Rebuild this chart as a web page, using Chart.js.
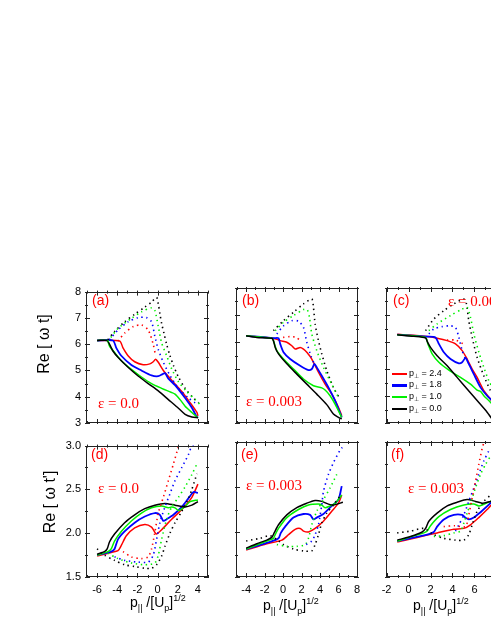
<!DOCTYPE html>
<html>
<head>
<meta charset="utf-8">
<script src="https://cdn.jsdelivr.net/npm/chart.js@4.4.0/dist/chart.umd.min.js"></script>
<style>
  html, body { margin: 0; padding: 0; background: #fff; overflow: hidden; }
  #wrap { position: relative; width: 491px; height: 635px; overflow: hidden; }
  canvas { position: absolute; }
  .t { position: absolute; white-space: nowrap; font-family: 'Liberation Sans', Arial, sans-serif; color: #000; line-height: 1; }
  .lbl { color: #ff0000; font-size: 14px; }
  .eps { color: #ff0000; font-family: 'Liberation Serif', 'Times New Roman', serif; font-size: 15px; }
  .ytl { font-size: 16px; transform: translate(-50%, -50%) rotate(-90deg); }
  .xtl { font-size: 14px; }
  .xtl sub { font-size: 9px; vertical-align: -4px; }
  .xtl sup { font-size: 9px; vertical-align: 6px; }
  .leg { font-size: 9px; }
  .leg sub { font-size: 6px; vertical-align: -2px; }
  .ln { position: absolute; width: 15px; }
</style>
</head>
<body>
<div id="wrap">
  <canvas id="pa" width="172" height="165" style="left:46px;top:280px"></canvas>
  <canvas id="pb" width="172" height="165" style="left:196px;top:280px"></canvas>
  <canvas id="pc" width="172" height="165" style="left:346px;top:280px"></canvas>
  <canvas id="pd" width="172" height="165" style="left:46px;top:434px"></canvas>
  <canvas id="pe" width="172" height="165" style="left:196px;top:434px"></canvas>
  <canvas id="pf" width="172" height="165" style="left:346px;top:434px"></canvas>

  <div class="t lbl" style="left:92px;top:293px">(a)</div>
  <div class="t lbl" style="left:242px;top:293px">(b)</div>
  <div class="t lbl" style="left:393px;top:293px">(c)</div>
  <div class="t lbl" style="left:91px;top:447px">(d)</div>
  <div class="t lbl" style="left:241px;top:447px">(e)</div>
  <div class="t lbl" style="left:391px;top:447px">(f)</div>

  <div class="t eps" style="left:98px;top:396px">&epsilon; = 0.0</div>
  <div class="t eps" style="left:246px;top:394px">&epsilon; = 0.003</div>
  <div class="t eps" style="left:448px;top:294px">&epsilon; = 0.003</div>
  <div class="t eps" style="left:98px;top:481px">&epsilon; = 0.0</div>
  <div class="t eps" style="left:246px;top:478px">&epsilon; = 0.003</div>
  <div class="t eps" style="left:408px;top:481px">&epsilon; = 0.003</div>

  <div class="t ytl" style="left:44px;top:344px">Re [ &omega; t]</div>
  <div class="t ytl" style="left:50px;top:502px">Re [ &omega; t']</div>

  <div class="t xtl" style="left:130px;top:594px">p<sub>||</sub> /[U<sub>p</sub>]<sup>1/2</sup></div>
  <div class="t xtl" style="left:263px;top:597px">p<sub>||</sub> /[U<sub>p</sub>]<sup>1/2</sup></div>
  <div class="t xtl" style="left:413px;top:597px">p<sub>||</sub> /[U<sub>p</sub>]<sup>1/2</sup></div>

  <div class="ln" style="left:392px;top:373px;height:1.5px;background:#ff0000"></div>
  <div class="t leg" style="left:409px;top:369px">p<sub>&perp;</sub> = 2.4</div>
  <div class="ln" style="left:392px;top:384px;height:2.5px;background:#0000ff"></div>
  <div class="t leg" style="left:409px;top:380px">p<sub>&perp;</sub> = 1.8</div>
  <div class="ln" style="left:392px;top:396px;height:1.5px;background:#00f000"></div>
  <div class="t leg" style="left:409px;top:392px">p<sub>&perp;</sub> = 1.0</div>
  <div class="ln" style="left:392px;top:408px;height:1.5px;background:#000"></div>
  <div class="t leg" style="left:409px;top:404px">p<sub>&perp;</sub> = 0.0</div>
</div>
<script>
// tick values
var xTicksA = [-6, -4, -2, 0, 2, 4];
var xTicksB = [-4, -2, 0, 2, 4, 6, 8];
var xTicksC = [-2, 0, 2, 4, 6, 8];
var yTicksTop = [3, 4, 5, 6, 7, 8];
var yTicksBot = [1.5, 2.0, 2.5, 3.0];

// (a) eps = 0.0, Re[wt]
var aRed = [[-6,6.14],[-3.77,6.12],[-3.43,5.86],[-2.93,5.56],[-2.27,5.33],[-1.43,5.22],[-0.77,5.25],[-0.43,5.33],[-0.2,5.43],[0.07,5.31],[0.57,5.0],[1.4,4.63],[2.4,4.2],[3.23,3.77],[3.9,3.4],[4,3.27]];
var aBlue = [[-6,6.14],[-4.43,6.14],[-4.1,5.86],[-3.6,5.56],[-2.6,5.21],[-1.6,5.0],[-0.6,4.81],[0.07,4.78],[0.5,4.86],[0.73,4.9],[1.07,4.69],[1.73,4.44],[2.73,3.95],[3.4,3.58],[3.83,3.27],[4,3.2]];
var aGreen = [[-6,6.14],[-5,6.14],[-4.77,5.93],[-4.27,5.68],[-3.6,5.37],[-2.6,5.04],[-1.6,4.75],[-0.6,4.5],[0.4,4.32],[1.33,4.17],[1.73,4.1],[2.23,3.89],[2.73,3.64],[3.4,3.4],[4,3.2]];
var aBlack = [[-6,6.14],[-5,6.14],[-4.77,6.0],[-4.43,5.74],[-3.93,5.5],[-2.93,5.12],[-1.93,4.79],[-0.93,4.5],[0.07,4.22],[1.07,3.89],[2.07,3.56],[2.73,3.33],[3.4,3.23],[4,3.2]];
var aRedDot = [[-3.93,6.12],[-3.27,6.42],[-2.4,6.67],[-1.6,6.73],[-0.93,6.54],[-0.43,5.99],[-0.2,5.56]];
var aBlueDot = [[-4.77,6.17],[-3.93,6.54],[-2.93,6.85],[-1.93,7.01],[-1.1,7.01],[-0.6,6.85],[-0.27,6.3],[0.07,5.8],[0.57,5.31],[1.23,4.81],[2.07,4.32],[3.07,3.95],[3.73,3.77]];
var aGreenDot = [[-4.93,6.1],[-3.93,6.6],[-2.6,6.98],[-1.6,7.23],[-0.6,7.38],[-0.27,7.28],[0.07,6.67],[0.4,6.05],[0.9,5.56],[1.4,5.06],[2.07,4.57],[2.9,4.2],[3.73,3.89],[4.23,3.7]];
var aBlackDot = [[-4.93,6.17],[-4.27,6.48],[-3.27,6.85],[-2.27,7.14],[-1.27,7.41],[-0.6,7.6],[-0.1,7.78],[0.07,7.53],[0.23,7.16],[0.4,6.79],[0.63,6.42],[0.9,5.99],[1.23,5.56],[1.57,5.19],[2.07,4.75],[2.73,4.32],[3.4,4.01],[4.07,3.77]];

// (b) eps = 0.003, Re[wt]
var bRed = [[-4,6.23],[-1.05,6.14],[-0.32,6.05],[0.4,5.99],[0.94,5.86],[1.3,5.74],[1.84,5.8],[2.2,5.74],[2.56,5.62],[3.1,5.37],[3.82,4.88],[4.54,4.44],[5.26,4.07],[5.98,3.58],[6.34,3.27]];
var bBlue = [[-4,6.23],[-1.05,6.14],[-0.5,6.14],[-0.32,5.93],[0.04,5.62],[0.76,5.37],[1.84,5.12],[2.74,4.96],[3.1,5.0],[3.39,5.19],[3.64,5.06],[4.18,4.75],[4.9,4.32],[5.62,3.83],[6.34,3.21]];
var bGreen = [[-4,6.23],[-1.23,6.14],[-1.05,6.05],[-0.68,5.68],[0.04,5.37],[1.12,5.0],[2.2,4.63],[3.28,4.38],[4.18,4.3],[4.54,4.22],[5.08,4.01],[5.62,3.7],[6.34,3.21]];
var bBlack = [[-4,6.23],[-2.85,6.17],[-1.23,6.14],[-1.05,6.05],[-0.86,5.8],[-0.5,5.56],[0.4,5.19],[1.48,4.81],[2.56,4.44],[3.64,4.07],[4.72,3.68],[5.44,3.33],[5.98,3.21],[6.34,3.15]];
var bRedDot = [[0.0,6.17],[0.7,6.2],[1.4,6.17],[1.9,6.05]];
var bBlueDot = [[-0.68,6.3],[0.04,6.6],[0.94,6.79],[1.66,6.77],[2.2,6.54],[2.56,5.99],[3.0,5.49],[3.46,5.12]];
var bGreenDot = [[-0.86,6.42],[0.04,6.73],[1.12,6.98],[2.2,7.2],[2.6,7.2],[2.85,6.91],[3.1,6.3],[3.64,5.68],[4.36,5.06],[5.26,4.44],[5.98,3.95]];
var bBlackDot = [[-1.05,6.42],[0.04,6.79],[1.12,7.1],[2.2,7.41],[3.1,7.59],[3.28,7.28],[3.46,6.67],[3.82,6.05],[4.18,5.56],[4.72,4.94],[5.44,4.32],[6.16,3.89]];

// (c) eps = 0.003, Re[wt]
var cRed = [[-1.03,6.29],[1.7,6.2],[2.6,6.14],[3.52,6.05],[4.27,5.93],[4.88,5.68],[5.33,5.37],[5.79,5.0],[6.24,4.69],[6.85,4.2],[7.45,3.89],[8.0,3.55]];
var cBlue = [[-1.03,6.27],[1.7,6.2],[2.45,6.17],[2.76,5.93],[3.21,5.62],[3.82,5.37],[4.58,5.21],[4.88,5.25],[5.18,5.41],[5.48,5.19],[5.94,4.81],[6.55,4.32],[7.15,4.01],[7.6,3.83],[8.0,3.6]];
var cGreen = [[-1.03,6.27],[1.55,6.17],[1.76,5.93],[2.15,5.56],[2.76,5.25],[3.67,4.96],[4.73,4.69],[5.64,4.44],[6.24,4.22],[6.55,4.17],[6.85,4.01],[7.3,3.83],[7.6,3.7],[8.0,3.4]];
var cBlack = [[-1.03,6.27],[0.48,6.21],[1.55,6.15],[1.7,6.02],[2.0,5.8],[2.6,5.49],[3.52,5.12],[4.42,4.69],[5.33,4.26],[6.24,3.83],[7.15,3.4],[7.6,3.15],[8.0,3.0]];
var cRedDot = [[3.5,6.07],[4.3,6.07],[5.0,5.93]];
var cBlueDot = [[1.85,6.3],[2.3,6.48],[3.06,6.57],[3.82,6.6],[4.27,6.54],[4.58,6.17],[4.88,5.68],[5.18,5.37]];
var cGreenDot = [[1.85,6.42],[2.6,6.67],[3.82,6.98],[4.88,7.22],[5.33,7.28],[5.64,6.91],[5.94,6.3],[6.4,5.62],[6.85,5.06],[7.3,4.57],[7.8,4.2]];
var cBlackDot = [[1.55,6.42],[2.3,6.85],[3.21,7.16],[4.12,7.41],[5.03,7.59],[5.27,7.41],[5.48,6.79],[5.79,6.17],[6.24,5.43],[6.85,4.75],[7.45,4.2],[8.0,3.8]];

// (d) eps = 0.0, Re[wt']
var dRed = [[-6,1.74],[-4.6,1.78],[-3.93,1.8],[-3.6,1.86],[-3.1,1.97],[-2.27,2.06],[-1.27,2.1],[-0.6,2.07],[-0.27,2.01],[-0.1,1.99],[0.4,2.04],[1.4,2.16],[2.4,2.27],[3.4,2.41],[4,2.56]];
var dBlue = [[-6,1.75],[-4.6,1.79],[-4.27,1.82],[-3.93,1.93],[-3.27,2.02],[-2.27,2.12],[-1.27,2.19],[-0.27,2.23],[0.23,2.21],[0.57,2.14],[0.9,2.16],[1.57,2.21],[2.4,2.3],[3.07,2.4],[3.57,2.47],[4,2.46]];
var dGreen = [[-6,1.75],[-4.93,1.79],[-4.6,1.82],[-4.27,1.91],[-3.6,2.02],[-2.6,2.14],[-1.6,2.23],[-0.6,2.29],[0.4,2.31],[1.07,2.29],[1.4,2.3],[1.73,2.29],[2.07,2.26],[2.57,2.29],[3.23,2.36],[4,2.38]];
var dBlack = [[-6,1.76],[-5.27,1.79],[-5,1.82],[-4.77,1.9],[-4.27,1.99],[-3.27,2.12],[-2.27,2.21],[-1.27,2.28],[-0.27,2.32],[0.73,2.34],[1.73,2.32],[2.73,2.3],[3.4,2.32],[4,2.36]];
var dRedDot = [[-3.43,1.79],[-2.6,1.73],[-1.6,1.71],[-0.93,1.73],[-0.6,1.82],[-0.27,2.01],[0.07,2.23],[0.57,2.41],[1.07,2.6],[1.57,2.79],[2.07,2.99]];
var dBlueDot = [[-4.27,1.73],[-3.27,1.69],[-1.93,1.67],[-0.93,1.67],[-0.43,1.75],[-0.1,1.93],[0.23,2.12],[0.73,2.3],[1.23,2.45],[1.73,2.6],[2.4,2.75],[3.07,2.9],[3.4,2.99],[3.9,3.0]];
var dGreenDot = [[-4.93,1.77],[-3.93,1.71],[-2.6,1.66],[-1.27,1.64],[-0.27,1.66],[0.07,1.75],[0.4,1.93],[0.9,2.16],[1.4,2.3],[2.07,2.41],[2.73,2.53],[3.4,2.67],[3.9,2.79]];
var dBlackDot = [[-6,1.82],[-5.27,1.75],[-4.27,1.69],[-3.27,1.64],[-2.27,1.62],[-1.27,1.6],[-0.6,1.6],[-0.1,1.64],[0.4,1.74],[0.73,1.85],[1.23,2.0],[1.73,2.12],[2.4,2.25],[3.07,2.4],[3.4,2.5],[3.9,2.68]];

// (e) eps = 0.003, Re[wt']
var eRed = [[-4,1.8],[-1.77,1.87],[-0.14,1.91],[0.58,1.97],[1.3,2.03],[1.84,2.04],[2.2,2.01],[2.74,2.0],[3.46,2.04],[4.36,2.12],[5.26,2.23],[5.98,2.32],[6.34,2.41]];
var eBlue = [[-4,1.81],[-1.41,1.89],[-0.5,1.93],[-0.25,1.99],[0.22,2.06],[1.12,2.16],[2.2,2.2],[2.92,2.19],[3.28,2.14],[3.64,2.16],[4.36,2.2],[5.26,2.29],[5.98,2.36],[6.34,2.51]];
var eGreen = [[-4,1.81],[-1.77,1.9],[-1.05,1.93],[-0.86,1.97],[-0.5,2.04],[0.4,2.16],[1.66,2.25],[2.74,2.3],[3.82,2.31],[4.18,2.3],[4.54,2.27],[5.08,2.29],[5.62,2.32],[6.34,2.41]];
var eBlack = [[-4,1.82],[-2.85,1.87],[-1.77,1.91],[-1.23,1.94],[-0.97,1.99],[-0.5,2.08],[0.4,2.19],[1.48,2.27],[2.56,2.32],[3.46,2.35],[4.18,2.34],[4.9,2.31],[5.44,2.3],[6.47,2.33]];
var eBlueDot = [[2.5,1.86],[3.1,1.9],[3.46,1.97],[3.82,2.08],[4.18,2.3],[4.36,2.45],[4.9,2.64],[5.44,2.77],[6.16,2.91],[6.4,2.94]];
var eGreenDot = [[-0.68,1.86],[0.4,1.84],[1.48,1.84],[2.38,1.86],[2.74,1.93],[3.1,2.08],[3.64,2.23],[4.36,2.36],[5.08,2.49],[5.8,2.64]];
var eBlackDot = [[-4,1.9],[-2.49,1.93],[-1.41,1.96],[-0.5,1.9],[0.04,1.86],[1.12,1.81],[2.2,1.79],[3.1,1.79],[3.46,1.86],[3.82,1.97],[4.18,2.1],[4.72,2.21],[5.44,2.3],[6.16,2.4]];

// (f) eps = 0.003, Re[wt']
var fRed = [[-1.03,1.89],[0.79,1.94],[2.6,1.99],[4.12,2.03],[5.03,2.04],[5.64,2.08],[6.39,2.16],[7.15,2.25],[7.45,2.29],[8.2,2.38]];
var fBlue = [[-1.03,1.9],[1.7,1.97],[2.3,2.0],[2.6,2.06],[3.21,2.14],[4.12,2.19],[4.88,2.19],[5.18,2.16],[5.48,2.14],[5.94,2.16],[6.55,2.22],[7.45,2.32],[8.2,2.42]];
var fGreen = [[-1.03,1.9],[1.39,1.99],[1.7,2.01],[2.0,2.07],[2.76,2.17],[3.82,2.25],[5.03,2.3],[5.94,2.31],[6.39,2.29],[6.7,2.3],[7.45,2.34],[8.2,2.38]];
var fBlack = [[-1.03,1.91],[0.18,1.95],[1.24,2.0],[1.55,2.04],[1.85,2.12],[2.6,2.21],[3.52,2.29],[4.42,2.33],[5.33,2.36],[6.09,2.34],[6.7,2.32],[7.45,2.34],[8.2,2.36]];
var fRedDot = [[3.2,2.06],[4.2,2.07],[5.18,2.06],[5.48,2.19],[5.79,2.38],[6.09,2.56],[6.39,2.75],[6.7,2.93],[6.85,2.99]];
var fBlueDot = [[4.27,2.01],[4.58,2.08],[5.03,2.19],[5.48,2.34],[5.94,2.49],[6.39,2.64],[6.85,2.79],[7.3,2.9]];
var fGreenDot = [[2.3,1.95],[3.21,1.96],[4.12,1.99],[4.73,2.01],[5.03,2.1],[5.33,2.21],[5.7,2.34],[6.09,2.49],[6.55,2.64],[7.0,2.75],[7.5,2.85]];
var fBlackDot = [[-1.03,1.99],[0.18,2.01],[1.39,2.04],[2.3,1.97],[3.21,1.93],[4.27,1.91],[5.03,1.91],[5.48,1.97],[5.79,2.08],[6.24,2.23],[6.85,2.34],[7.45,2.41]];

var RED = '#ff0000', BLUE = '#0000ff', GREEN = '#00f000', BLACK = '#000000';

// box with ticks on all four sides
var frameTicks = {
    id: 'frameTicks',
    afterDraw: function (chart) {
        var ctx = chart.ctx, a = chart.chartArea;
        ctx.save();
        ctx.strokeStyle = '#222';
        ctx.lineWidth = 1;
        ctx.strokeRect(Math.round(a.left) + 0.5, Math.round(a.top) + 0.5, Math.round(a.right - a.left) - 1, Math.round(a.bottom - a.top) - 1);
        ['x', 'y'].forEach(function (id) {
            var s = chart.scales[id];
            var major = s.ticks.map(function (t) { return t.value; });
            var step = major[1] - major[0];
            var marks = [];
            major.forEach(function (v) { marks.push([v, 4]); });
            for (var v = major[0] - step / 2; v <= s.max; v += step) marks.push([v, 2]);
            marks.forEach(function (m) {
                if (m[0] < s.min || m[0] > s.max) return;
                var p = Math.round(s.getPixelForValue(m[0])) + 0.5, L = m[1];
                ctx.beginPath();
                if (id === 'x') {
                    ctx.moveTo(p, a.bottom + 1); ctx.lineTo(p, a.bottom - L);
                    ctx.moveTo(p, a.top - 1); ctx.lineTo(p, a.top + L);
                } else {
                    ctx.moveTo(a.left - 1, p); ctx.lineTo(a.left + L, p);
                    ctx.moveTo(a.right + 1, p); ctx.lineTo(a.right - L, p);
                }
                ctx.stroke();
            });
        });
        ctx.restore();
    }
};

function pts(arr) { return arr.map(function (p) { return {x: p[0], y: p[1]}; }); }

function solid(arr, color, w) {
    return {data: pts(arr), borderColor: color, borderWidth: w || 1.5, tension: 0.25, fill: false};
}
function dotted(arr, color) {
    return {data: pts(arr), borderColor: color, borderWidth: 1.6, borderDash: [1.4, 3.6], tension: 0.25, fill: false};
}

function panel(id, xMin, xMax, xTicks, yMin, yMax, yTicks, showX, showY, datasets) {
    var font = {family: "'Liberation Sans', Arial, sans-serif", size: 11};
    new Chart(document.getElementById(id), {
        type: 'line',
        data: {datasets: datasets},
        options: {
            responsive: false,
            animation: false,
            layout: {padding: {top: 8, right: 10, left: 0, bottom: 0}},
            plugins: {legend: {display: false}, tooltip: {enabled: false}},
            elements: {point: {radius: 0}},
            scales: {
                x: {
                    type: 'linear', min: xMin, max: xMax,
                    grid: {display: false, drawTicks: false},
                    border: {display: false},
                    ticks: {display: showX, padding: 6, color: '#000', font: font, maxRotation: 0},
                    afterBuildTicks: function (s) { s.ticks = xTicks.map(function (v) { return {value: v}; }); },
                    afterFit: function (s) { s.height = 22; }
                },
                y: {
                    type: 'linear', min: yMin, max: yMax,
                    grid: {display: false, drawTicks: false},
                    border: {display: false},
                    ticks: {
                        display: showY, padding: 5, color: '#000', font: font,
                        callback: function (v) { return yMax < 4 ? v.toFixed(1) : String(v); }
                    },
                    afterBuildTicks: function (s) { s.ticks = yTicks.map(function (v) { return {value: v}; }); },
                    afterFit: function (s) { s.width = 40; }
                }
            }
        },
        plugins: [frameTicks]
    });
}

panel('pa', -7.1, 5.0, xTicksA, 3, 8, yTicksTop, false, true, [
    dotted(aRedDot, RED), dotted(aBlueDot, BLUE), dotted(aGreenDot, GREEN), dotted(aBlackDot, BLACK),
    solid(aBlack, BLACK), solid(aGreen, GREEN), solid(aBlue, BLUE, 1.8), solid(aRed, RED)
]);
panel('pb', -5.1, 8.1, xTicksB, 3, 8, yTicksTop, false, false, [
    dotted(bRedDot, RED), dotted(bBlueDot, BLUE), dotted(bGreenDot, GREEN), dotted(bBlackDot, BLACK),
    solid(bBlack, BLACK), solid(bGreen, GREEN), solid(bBlue, BLUE, 1.8), solid(bRed, RED)
]);
panel('pc', -2.05, 9.05, xTicksC, 3, 8, yTicksTop, false, false, [
    dotted(cRedDot, RED), dotted(cBlueDot, BLUE), dotted(cGreenDot, GREEN), dotted(cBlackDot, BLACK),
    solid(cBlack, BLACK), solid(cGreen, GREEN), solid(cBlue, BLUE, 1.8), solid(cRed, RED)
]);
panel('pd', -7.1, 5.0, xTicksA, 1.5, 3.0, yTicksBot, true, true, [
    dotted(dRedDot, RED), dotted(dBlueDot, BLUE), dotted(dGreenDot, GREEN), dotted(dBlackDot, BLACK),
    solid(dBlack, BLACK), solid(dGreen, GREEN), solid(dBlue, BLUE, 1.8), solid(dRed, RED)
]);
panel('pe', -5.1, 8.1, xTicksB, 1.5, 3.0, yTicksBot, true, false, [
    dotted(eBlueDot, BLUE), dotted(eGreenDot, GREEN), dotted(eBlackDot, BLACK),
    solid(eBlack, BLACK), solid(eGreen, GREEN), solid(eBlue, BLUE, 1.8), solid(eRed, RED)
]);
panel('pf', -2.05, 9.05, xTicksC, 1.5, 3.0, yTicksBot, true, false, [
    dotted(fRedDot, RED), dotted(fBlueDot, BLUE), dotted(fGreenDot, GREEN), dotted(fBlackDot, BLACK),
    solid(fBlack, BLACK), solid(fGreen, GREEN), solid(fBlue, BLUE, 1.8), solid(fRed, RED)
]);
</script>
</body>
</html>
